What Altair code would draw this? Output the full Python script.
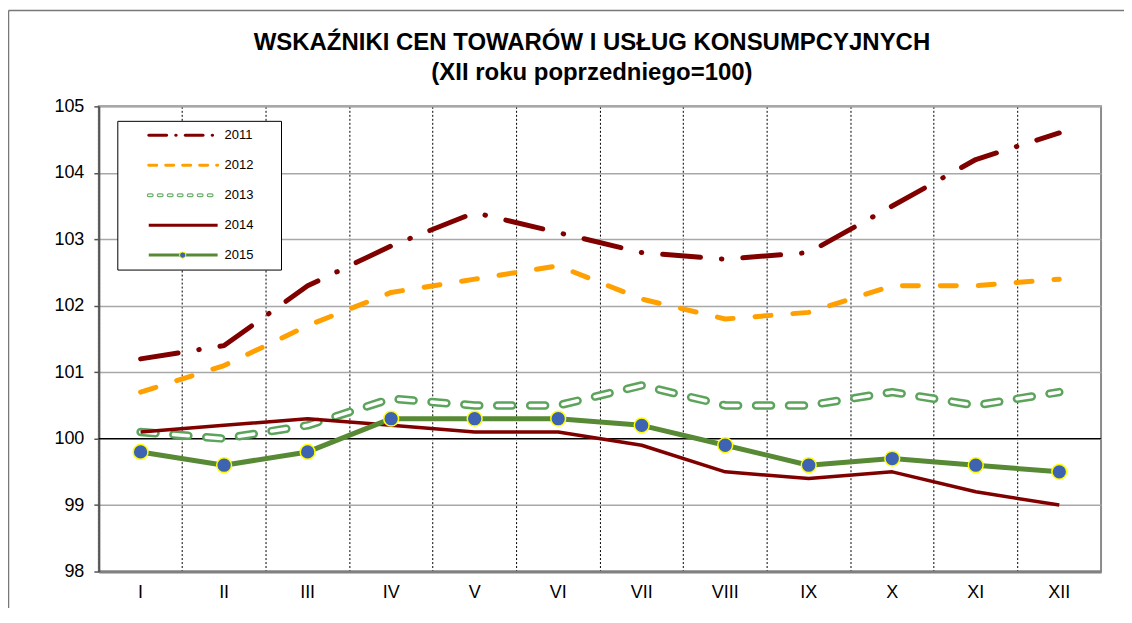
import altair as alt
import pandas as pd

months = ["I", "II", "III", "IV", "V", "VI", "VII", "VIII", "IX", "X", "XI", "XII"]
years = ["2011", "2012", "2013", "2014", "2015"]
v2011 = [101.2, 101.4, 102.3, 102.9, 103.4, 103.1, 102.8, 102.7, 102.8, 103.5, 104.2, 104.6]
v2012 = [100.7, 101.1, 101.7, 102.2, 102.4, 102.6, 102.1, 101.8, 101.9, 102.3, 102.3, 102.4]
v2013 = [100.1, 100.0, 100.2, 100.6, 100.5, 100.5, 100.8, 100.5, 100.5, 100.7, 100.5, 100.7]
v2014 = [100.1, 100.2, 100.3, 100.2, 100.1, 100.1, 99.9, 99.5, 99.4, 99.5, 99.2, 99.0]
v2015 = [99.8, 99.6, 99.8, 100.3, 100.3, 100.3, 100.2, 99.9, 99.6, 99.7, 99.6, 99.5]
y_ticks = [98, 99, 100, 101, 102, 103, 104, 105]
title_lines = ["WSKAŹNIKI CEN TOWARÓW I USŁUG KONSUMPCYJNYCH", "(XII roku poprzedniego=100)"]

series = {"2011": v2011, "2012": v2012, "2013": v2013, "2014": v2014, "2015": v2015}

W, H = 1004, 466
FONT = "Liberation Sans"

def frame(year):
    return pd.DataFrame({"month": months, "value": series[year], "year": year})

X = alt.X(
    "month:N",
    sort=months,
    scale=alt.Scale(type="band", domain=months, paddingInner=0, paddingOuter=0),
    bandPosition=0.5,
    axis=alt.Axis(
        title=None, grid=True, gridDash=[2, 2], gridColor="#000000", gridWidth=1,
        bandPosition=0, ticks=False,
        domainColor="#808080", domainWidth=3,
        labelFontSize=18, labelFont=FONT, labelColor="#000000", labelPadding=12, labelAngle=0,
    ),
)
Y = alt.Y(
    "value:Q",
    scale=alt.Scale(domain=[98, 105], nice=False, zero=False),
    axis=alt.Axis(
        title=None, values=y_ticks, format="d", grid=True, gridColor="#A8A8A8", gridWidth=1.5,
        tickSize=5, tickColor="#555555", tickWidth=1.5, domainColor="#555555", domainWidth=2,
        labelFontSize=18, labelFont=FONT, labelColor="#000000", labelPadding=10,
    ),
)

one = pd.DataFrame({"a": [0]})

rule100 = alt.Chart(one).mark_rule(color="#000000", strokeWidth=1.2).encode(y=alt.datum(100))

def line(year, **kw):
    return alt.Chart(frame(year)).mark_line(strokeJoin="round", **kw).encode(x=X, y=Y)

l2011 = line("2011", color="#800000", strokeWidth=5, strokeCap="round", strokeDash=[38, 21, 0.5, 21])
l2012 = line("2012", color="#FFA000", strokeWidth=5, strokeCap="round", strokeDash=[16, 22])
l2013a = line("2013", color="#5CA35C", strokeWidth=8.5, strokeCap="round", strokeDash=[15, 18])
l2013b = line("2013", color="#FFFFFF", strokeWidth=3.5, strokeCap="round", strokeDash=[15, 18])
l2014 = line("2014", color="#800000", strokeWidth=3.5)
l2015 = line("2015", color="#588A35", strokeWidth=5)
p2015 = alt.Chart(frame("2015")).mark_circle(
    size=220, color="#3E63B2", opacity=1, stroke="#FFFF00", strokeWidth=1.5
).encode(x=X, y=Y)

# outer chart frame
frame_top = alt.Chart(one).mark_rule(color="#777777", strokeWidth=1.5).encode(
    x=alt.value(-90.5), x2=alt.value(1040), y=alt.value(-96)
)
frame_left = alt.Chart(one).mark_rule(color="#777777", strokeWidth=1.5).encode(
    x=alt.value(-90.5), y=alt.value(-96), y2=alt.value(H + 40)
)

main = alt.layer(rule100, l2011, l2012, l2013a, l2013b, l2014, l2015, p2015, frame_top, frame_left)

# legend
leg_df = pd.DataFrame({"year": years})
LY = alt.Y("year:N", scale=alt.Scale(type="point", domain=years, range=[29, 149], padding=0), axis=None)

box = alt.Chart(one).mark_rect(fill="#FFFFFF", stroke="#000000", strokeWidth=1).encode(
    x=alt.value(19), x2=alt.value(183), y=alt.value(15), y2=alt.value(164)
)

def leg_rule(year, **kw):
    return alt.Chart(leg_df).transform_filter(alt.datum.year == year).mark_rule(**kw).encode(
        x=alt.value(50), x2=alt.value(119), y=LY
    )

g2011 = leg_rule("2011", color="#800000", strokeWidth=3, strokeDash=[18, 9, 0.5, 9], strokeCap="round")
g2012 = leg_rule("2012", color="#FFA000", strokeWidth=3, strokeDash=[8, 9], strokeCap="round")
g2013a = leg_rule("2013", color="#6CB06C", strokeWidth=4, strokeDash=[3, 7], strokeCap="round")
g2013b = leg_rule("2013", color="#FFFFFF", strokeWidth=1.5, strokeDash=[3, 7], strokeCap="round")
g2014 = leg_rule("2014", color="#800000", strokeWidth=3)
g2015 = leg_rule("2015", color="#588A35", strokeWidth=3)
gdot = alt.Chart(leg_df).transform_filter(alt.datum.year == "2015").mark_circle(
    size=40, color="#3E63B2", opacity=1, stroke="#FFFF00", strokeWidth=1
).encode(x=alt.value(84), y=LY)
gtext = alt.Chart(leg_df).mark_text(
    align="left", baseline="middle", fontSize=13, font=FONT, color="#000000"
).encode(x=alt.value(126), y=LY, text="year:N")

legend = alt.layer(box, g2011, g2012, g2013a, g2013b, g2014, g2015, gdot, gtext)

chart = alt.layer(main, legend).resolve_scale(y="independent").properties(
    width=W,
    height=H,
    padding={"left": 91, "top": 98, "right": 23, "bottom": 36},
    autosize=alt.AutoSizeParams(type="none"),
    background="#FFFFFF",
    title=alt.TitleParams(
        text=title_lines, fontSize=24, font=FONT, fontWeight="bold", color="#000000",
        anchor="middle", frame="group", lineHeight=30, offset=22, dy=97, dx=-8,
    ),
).configure_view(stroke="#8C8C8C", strokeWidth=2)

chart.save("out.html", embed_options={"renderer": "svg", "actions": False})
